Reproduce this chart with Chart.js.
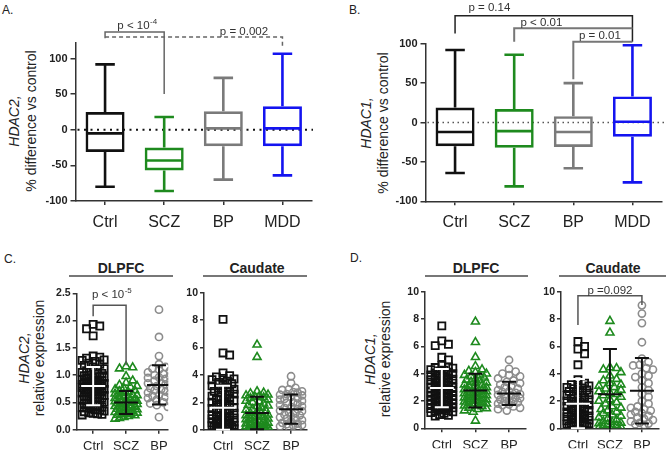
<!DOCTYPE html>
<html>
<head>
<meta charset="utf-8">
<script src="https://cdn.jsdelivr.net/npm/chart.js@4.4.0/dist/chart.umd.min.js"></script>
<style>
  body { margin: 0; background: #fff; }
  #fig { position: relative; width: 666px; height: 452px; overflow: hidden; font-family: "Liberation Sans", Arial, sans-serif; color: #222; }
  .t { position: absolute; line-height: 1; white-space: nowrap; }
  .ylab { position: absolute; transform: translate(-50%, -50%) rotate(-90deg); white-space: nowrap; text-align: center; font-size: 14px; }
  .hd { position: absolute; transform: translate(-50%, -50%); font-weight: bold; font-size: 14px; white-space: nowrap; }
  .hl { position: absolute; height: 1.5px; background: #777; }
</style>
</head>
<body>
<div id="fig">
  <div class="t" style="left:2px;top:4px;font-size:12px">A.</div>
  <div class="t" style="left:349px;top:4px;font-size:12px">B.</div>
  <div class="t" style="left:4px;top:253px;font-size:12px">C.</div>
  <div class="t" style="left:350px;top:252px;font-size:12px">D.</div>

  <div class="ylab" style="left:23px;top:121px;line-height:17px"><i>HDAC2,</i><br>% difference vs control</div>
  <div class="ylab" style="left:375px;top:123px;line-height:17px"><i>HDAC1,</i><br>% difference vs control</div>
  <div class="ylab" style="left:32px;top:358px;line-height:15px"><i>HDAC2,</i><br>relative expression</div>
  <div class="ylab" style="left:378px;top:359px;line-height:15px"><i>HDAC1,</i><br>relative expression</div>

  <div class="hd" style="left:121px;top:268px">DLPFC</div>
  <div class="hl" style="left:69px;top:275px;width:104px"></div>
  <div class="hd" style="left:257px;top:268px">Caudate</div>
  <div class="hl" style="left:203px;top:275px;width:104px"></div>
  <div class="hd" style="left:476px;top:268px">DLPFC</div>
  <div class="hl" style="left:425px;top:275px;width:103px"></div>
  <div class="hd" style="left:613px;top:268px">Caudate</div>
  <div class="hl" style="left:559px;top:275px;width:107px"></div>
</div>

<script>
Chart.defaults.font.family = '"Liberation Sans", Arial, sans-serif';

// ---- box plot data (panels A, B)
const groups4 = ['Ctrl', 'SCZ', 'BP', 'MDD'];
const boxTicks = [-100, -50, 0, 50, 100];

// A: HDAC2 % difference vs control
const aMin = [-80, -86, -70, -64];
const aQ1  = [-31, -57, -23, -23];
const aMed = [-5, -43, 2, 2];
const aQ3  = [25, -25, 26, 33];
const aMax = [92, 18, 73, 107];

// B: HDAC1 % difference vs control
const bMin = [-64, -81, -58, -76];
const bQ1  = [-30, -32, -31, -18];
const bMed = [-12, -11, -12, 1];
const bQ3  = [19, 17, 8, 33];
const bMax = [92, 86, 50, 98];

// ---- dot plot data (panels C, D)
const groups3 = ['Ctrl', 'SCZ', 'BP'];
const ticks25 = [0, 0.5, 1, 1.5, 2, 2.5];
const ticks10 = [0, 2, 4, 6, 8, 10];

// C: HDAC2 DLPFC
const cDlCtrl = [1.93,1.90,1.85,1.72,1.35,1.33,1.31,1.28,1.27,1.25,1.22,1.20,1.18,1.15,1.12,1.10,1.08,1.07,1.05,1.03,1.02,1.00,0.99,0.97,0.96,0.95,0.93,0.92,0.91,0.90,0.89,0.88,0.87,0.86,0.85,0.84,0.83,0.82,0.81,0.80,0.79,0.78,0.77,0.76,0.75,0.74,0.73,0.72,0.71,0.70,0.69,0.68,0.67,0.66,0.65,0.64,0.63,0.62,0.61,0.60,0.59,0.58,0.56,0.55,0.54,0.52,0.51,0.50,0.48,0.47,0.45,0.44,0.42,0.41,0.40,0.38,0.37,0.36,0.34,0.33,0.31,0.30,0.29,0.28,0.27];
const cDlScz = [1.16,1.14,1.12,0.98,0.90,0.86,0.82,0.80,0.78,0.76,0.74,0.72,0.70,0.69,0.67,0.66,0.64,0.63,0.62,0.60,0.59,0.58,0.57,0.56,0.55,0.54,0.53,0.52,0.51,0.50,0.49,0.48,0.47,0.46,0.45,0.44,0.43,0.42,0.41,0.40,0.39,0.38,0.37,0.36,0.35,0.34,0.33,0.32,0.31,0.30,0.29,0.28,0.27,0.26,0.25,0.23,0.21,0.20];
const cDlBp = [2.20,1.70,1.35,1.20,1.15,1.12,1.10,1.08,1.05,1.02,1.00,0.98,0.96,0.95,0.93,0.90,0.88,0.86,0.85,0.83,0.80,0.78,0.76,0.74,0.72,0.70,0.68,0.66,0.64,0.62,0.60,0.58,0.55,0.52,0.50,0.48,0.45,0.42,0.23];
const cDlMean = [0.80, 0.50, 0.82];
const cDlSd = [0.35, 0.21, 0.36];

// C: HDAC2 Caudate
const cCaCtrl = [8.05,5.6,5.45,4.15,3.95,3.85,3.75,3.7,3.65,3.55,3.45,3.35,3.3,3.2,3.1,3.05,2.95,2.9,2.8,2.75,2.7,2.6,2.5,2.45,2.4,2.3,2.2,2.15,2.1,2.0,1.9,1.85,1.8,1.7,1.6,1.55,1.5,1.4,1.3,1.25,1.2,1.1,1.05,1.0,0.95,0.9,0.85,0.8,0.75,0.7,0.65,0.6,0.55,0.5,0.45,0.42,0.4,0.35,0.32,0.3,0.28,0.25,0.22,0.2,0.18,0.15,0.12,0.1,0.08,0.05];
const cCaScz = [6.2,5.3,2.8,2.7,2.65,2.55,2.5,2.45,2.4,2.35,2.3,2.2,2.1,2.05,2.0,1.9,1.8,1.75,1.7,1.6,1.5,1.45,1.4,1.3,1.25,1.2,1.1,1.05,1.0,0.95,0.9,0.85,0.8,0.75,0.7,0.65,0.6,0.55,0.5,0.45,0.4,0.38,0.35,0.3,0.28,0.25,0.22,0.2,0.18,0.15,0.12,0.1,0.08,0.05,0.03];
const cCaBp = [3.9,3.4,3.05,2.95,2.9,2.8,2.75,2.7,2.6,2.55,2.5,2.4,2.3,2.25,2.2,2.1,2.0,1.95,1.9,1.8,1.7,1.65,1.6,1.5,1.4,1.35,1.3,1.2,1.1,1.05,1.0,0.9,0.85,0.8,0.7,0.6,0.5,0.45,0.4,0.35,0.3,0.25,0.2,0.15];
const cCaMean = [1.6, 1.22, 1.5];
const cCaSd = [1.6, 1.18, 1.07];

// D: HDAC1 DLPFC
const dDlCtrl = [7.5,6.4,6.15,6.05,5.2,5.0,4.6,4.5,4.45,4.4,4.3,4.25,4.2,4.1,4.05,4.0,3.9,3.85,3.8,3.7,3.65,3.6,3.55,3.5,3.45,3.4,3.35,3.3,3.25,3.2,3.15,3.1,3.05,3.0,2.95,2.9,2.85,2.8,2.75,2.7,2.65,2.6,2.55,2.5,2.45,2.4,2.35,2.3,2.25,2.2,2.15,2.1,2.05,2.0,1.95,1.9,1.85,1.8,1.75,1.7,1.65,1.6,1.55,1.5,1.45,1.4,1.35,1.3,1.25,1.2,1.15,1.1,1.0,0.95,0.9];
const dDlScz = [7.8,6.3,5.2,4.55,4.3,4.2,4.1,4.0,3.9,3.85,3.8,3.7,3.6,3.55,3.5,3.4,3.35,3.3,3.2,3.15,3.1,3.0,2.95,2.9,2.85,2.8,2.75,2.7,2.65,2.6,2.55,2.5,2.45,2.4,2.35,2.3,2.25,2.2,2.15,2.1,2.05,2.0,1.95,1.9,1.85,1.8,1.75,1.7,1.65,1.6,1.5,1.45,1.4,1.3,1.2,0.55];
const dDlBp = [5.0,4.35,4.15,4.0,3.9,3.8,3.65,3.5,3.4,3.3,3.2,3.1,3.0,2.9,2.8,2.7,2.65,2.6,2.5,2.45,2.4,2.3,2.25,2.2,2.1,2.05,2.0,1.95,1.9,1.8,1.75,1.7,1.6,1.5,1.4,1.3];
const dDlMean = [2.95, 2.76, 2.55];
const dDlSd = [1.4, 1.24, 0.85];

// D: HDAC1 Caudate
const dCaCtrl = [6.35,6.0,5.8,5.45,4.65,3.55,3.3,3.2,3.15,3.1,3.0,2.95,2.9,2.8,2.75,2.7,2.6,2.5,2.45,2.4,2.3,2.2,2.15,2.1,2.0,1.95,1.9,1.8,1.75,1.7,1.6,1.55,1.5,1.4,1.35,1.3,1.2,1.15,1.1,1.0,0.95,0.9,0.85,0.8,0.75,0.7,0.65,0.6,0.55,0.5,0.45,0.4,0.38,0.35,0.3,0.28,0.25,0.22,0.2,0.18];
const dCaScz = [7.85,7.0,4.45,4.4,4.3,4.1,3.85,3.6,3.5,3.3,3.2,3.1,3.0,2.9,2.8,2.7,2.6,2.5,2.4,2.3,2.1,2.0,1.9,1.8,1.6,1.5,1.4,1.3,1.2,1.1,1.0,0.9,0.8,0.7,0.6,0.5,0.45,0.4,0.35,0.3,0.25,0.2,0.15,0.1,0.05];
const dCaBp = [9.0,8.4,7.7,6.3,5.1,4.85,4.65,4.6,4.4,4.3,4.0,3.85,3.75,3.5,3.3,3.0,2.8,2.5,2.3,2.0,1.8,1.6,1.5,1.4,1.3,1.2,1.1,1.0,0.9,0.8,0.7,0.6,0.5,0.4,0.35,0.3,0.25];
const dCaMean = [1.8, 2.5, 2.75];
const dCaSd = [1.8, 3.3, 2.4];

// ---- styles
const boxColors = ['#111111', '#1e8a1e', '#7a7a7a', '#1414f0'];
const dotColors = ['#111111', '#1e8a1e', '#8c8c8c'];
const dotStyles = ['rect', 'triangle', 'circle'];
const dotRadius = [5, 4.6, 3.6];
const dotBorder = [1.8, 1.6, 1.6];
const errColors = ['#ffffff', '#111111', '#111111'];

// significance brackets, in data units of each panel
const aBrackets = [
  { from: 0, to: 1, y: 137.4, ends: [128.6, 50.5], color: '#666', label: 'p < 10', sup: '-4', lx: 0.54, ly: 146.5 },
  { from: 0, to: 3, y: 130.4, ends: [130.4, 116.4], color: '#666', dash: [4, 3], label: 'p = 0.002', lx: 2.35, ly: 138 }
];
const bBrackets = [
  { from: 0, to: 3, y: 135.6, ends: [113, 102.5], color: '#222', label: 'p = 0.14', lx: 0.58, ly: 146 },
  { from: 1, to: 3, y: 119.6, ends: [102.5, 119.6], color: '#777', lw: 2, label: 'p < 0.01', lx: 1.46, ly: 127 },
  { from: 2, to: 3, y: 102.5, ends: [55, 102.5], color: '#777', lw: 2, label: 'p = 0.01', lx: 2.45, ly: 110 }
];
const cBracket = [{ from: 0, to: 1, y: 2.28, ends: [2.08, 1.18], color: '#555', label: 'p < 10', sup: '-5', lx: 0.56, ly: 2.47 }];
const dBracket = [{ from: 0, to: 2, y: 9.7, ends: [7.56, 9.03], color: '#555', label: 'p =0.092', lx: 1.0, ly: 10.1 }];

function place(R) {
  const wrap = document.createElement('div');
  wrap.style.cssText = 'position:absolute;left:' + R.x + 'px;top:' + R.y + 'px;width:' + R.w + 'px;height:' + R.h + 'px;';
  const cv = document.createElement('canvas');
  cv.width = R.w;
  cv.height = R.h;
  wrap.appendChild(cv);
  document.getElementById('fig').appendChild(wrap);
  return cv;
}

function padFor(R, area, yW, xH) {
  return { left: area.l - R.x - yW, top: area.t - R.y, right: R.x + R.w - area.r, bottom: R.y + R.h - area.b - xH };
}

// brackets + p-value labels
function bracketPlugin(list) {
  return {
    id: 'brackets',
    afterDraw(chart) {
      const { ctx, scales: { x, y } } = chart;
      list.forEach(b => {
        const x1 = x.getPixelForValue(b.from), x2 = x.getPixelForValue(b.to);
        const yy = y.getPixelForValue(b.y);
        ctx.save();
        ctx.strokeStyle = b.color;
        ctx.lineWidth = b.lw || 1.5;
        ctx.setLineDash(b.dash || []);
        ctx.beginPath();
        ctx.moveTo(x1, y.getPixelForValue(b.ends[0]));
        ctx.lineTo(x1, yy);
        ctx.lineTo(x2, yy);
        ctx.lineTo(x2, y.getPixelForValue(b.ends[1]));
        ctx.stroke();

        ctx.fillStyle = '#333';
        ctx.textBaseline = 'middle';
        ctx.textAlign = 'left';
        ctx.font = '11.5px "Liberation Sans", Arial, sans-serif';
        const wm = ctx.measureText(b.label).width;
        let ws = 0;
        if (b.sup) {
          ctx.font = '8px "Liberation Sans", Arial, sans-serif';
          ws = ctx.measureText(b.sup).width;
        }
        const lx = x.getPixelForValue(b.lx) - (wm + ws) / 2;
        const ly = y.getPixelForValue(b.ly);
        ctx.font = '11.5px "Liberation Sans", Arial, sans-serif';
        ctx.fillText(b.label, lx, ly);
        if (b.sup) {
          ctx.font = '8px "Liberation Sans", Arial, sans-serif';
          ctx.fillText(b.sup, lx + wm + 0.5, ly - 4);
        }
        ctx.restore();
      });
    }
  };
}

// dotted line at 0
function zeroLine(color, dash, lw, toEdge) {
  return {
    id: 'zero',
    beforeDatasetsDraw(chart) {
      const { ctx, chartArea, scales: { y } } = chart;
      const py = y.getPixelForValue(0);
      ctx.save();
      ctx.strokeStyle = color;
      ctx.lineWidth = lw;
      ctx.setLineDash(dash);
      ctx.beginPath();
      ctx.moveTo(chartArea.left + 2, py);
      ctx.lineTo(toEdge ? chart.width : chartArea.right + 1, py);
      ctx.stroke();
      ctx.restore();
    }
  };
}

// whiskers and medians on top of the floating bars
function whiskers(s) {
  return {
    id: 'whiskers',
    afterDatasetsDraw(chart) {
      const { ctx, scales: { x, y } } = chart;
      const bars = chart.getDatasetMeta(0).data;
      s.med.forEach((m, i) => {
        const cx = x.getPixelForValue(i);
        const half = bars[i].width / 2;
        const cap = half * 0.5;
        ctx.save();
        ctx.strokeStyle = boxColors[i];
        ctx.lineWidth = 2.6;
        ctx.beginPath();
        ctx.moveTo(cx - half + 1, y.getPixelForValue(m));
        ctx.lineTo(cx + half - 1, y.getPixelForValue(m));
        ctx.moveTo(cx, y.getPixelForValue(s.q3[i]));
        ctx.lineTo(cx, y.getPixelForValue(s.max[i]));
        ctx.moveTo(cx - cap, y.getPixelForValue(s.max[i]));
        ctx.lineTo(cx + cap, y.getPixelForValue(s.max[i]));
        ctx.moveTo(cx, y.getPixelForValue(s.q1[i]));
        ctx.lineTo(cx, y.getPixelForValue(s.min[i]));
        ctx.moveTo(cx - cap, y.getPixelForValue(s.min[i]));
        ctx.lineTo(cx + cap, y.getPixelForValue(s.min[i]));
        ctx.stroke();
        ctx.restore();
      });
    }
  };
}

function boxChart(R, area, s, yMax, brackets, zero) {
  const yW = 40, xH = 28;
  return new Chart(place(R), {
    type: 'bar',
    data: {
      labels: groups4,
      datasets: [{
        data: s.q1.map((v, i) => [v, s.q3[i]]),
        backgroundColor: 'rgba(0,0,0,0)',
        borderColor: boxColors,
        borderWidth: 2.6,
        borderSkipped: false,
        barPercentage: 0.66,
        categoryPercentage: 1
      }]
    },
    options: {
      responsive: false,
      animation: false,
      layout: { padding: padFor(R, area, yW, xH) },
      plugins: { legend: { display: false }, tooltip: { enabled: false } },
      scales: {
        x: {
          grid: { offset: false, drawOnChartArea: false, tickLength: 4, color: '#333', lineWidth: 1.5 },
          border: { color: '#333', width: 1.5 },
          ticks: { font: { size: 16 }, color: '#222', padding: 8 },
          afterFit: sc => { sc.height = xH; }
        },
        y: {
          min: -100,
          max: yMax,
          afterBuildTicks: sc => { sc.ticks = boxTicks.map(v => ({ value: v })); },
          grid: { drawOnChartArea: false, tickLength: 5, color: '#333', lineWidth: 1.5 },
          border: { color: '#333', width: 1.5 },
          ticks: { font: { size: 11, weight: 'bold' }, color: '#222', padding: 3 },
          afterFit: sc => { sc.width = yW; }
        }
      }
    },
    plugins: [zero, whiskers(s), bracketPlugin(brackets)]
  });
}

// beeswarm spread of one group around its category
function swarm(chart, values, center) {
  const xs = chart.scales.x, ys = chart.scales.y;
  const cx = xs.getPixelForValue(center);
  const placed = [];
  const out = [];
  const order = values.map((v, i) => i).sort((a, b) => values[b] - values[a]);
  order.forEach(i => {
    const py = ys.getPixelForValue(values[i]);
    let best = 0, bestGap = -1;
    for (let k = 0; k <= 10; k++) {
      const off = (k % 2 ? 1 : -1) * Math.ceil(k / 2) * 2.2;
      let gap = 99;
      placed.forEach(p => { gap = Math.min(gap, Math.hypot(p.x - off, p.y - py)); });
      if (gap >= 6.5) { best = off; break; }
      if (gap > bestGap) { bestGap = gap; best = off; }
    }
    placed.push({ x: best, y: py });
    out[i] = { x: xs.getValueForPixel(cx + best), y: values[i] };
  });
  return out;
}

// mean +/- SD bars
function errorBars(mean, sd) {
  return {
    id: 'errbars',
    afterDatasetsDraw(chart) {
      const { ctx, chartArea: ca, scales: { x, y } } = chart;
      ctx.save();
      ctx.beginPath();
      ctx.rect(ca.left, ca.top - 2, ca.right - ca.left, ca.bottom - ca.top + 3);
      ctx.clip();
      mean.forEach((m, i) => {
        const cx = x.getPixelForValue(i);
        const top = y.getPixelForValue(m + sd[i]), bot = y.getPixelForValue(m - sd[i]);
        const my = y.getPixelForValue(m);
        ctx.strokeStyle = errColors[i];
        ctx.lineWidth = 2;
        ctx.beginPath();
        ctx.moveTo(cx, top); ctx.lineTo(cx, bot);
        ctx.moveTo(cx - 7, top); ctx.lineTo(cx + 7, top);
        ctx.moveTo(cx - 7, bot); ctx.lineTo(cx + 7, bot);
        ctx.moveTo(cx - 12, my); ctx.lineTo(cx + 12, my);
        ctx.stroke();
      });
      ctx.restore();
    }
  };
}

function dotChart(R, area, xr, yMax, ticks, decimals, sets, mean, sd, brackets) {
  const yW = R.x === 533 ? 26 : (R.x === 175 ? 24 : 30), xH = 20;
  const chart = new Chart(place(R), {
    type: 'scatter',
    data: {
      datasets: sets.map((vals, i) => ({
        data: vals.map(v => ({ x: i, y: v })),
        pointStyle: dotStyles[i],
        radius: dotRadius[i],
        borderColor: dotColors[i],
        backgroundColor: 'rgba(0,0,0,0)',
        borderWidth: dotBorder[i]
      }))
    },
    options: {
      responsive: false,
      animation: false,
      layout: { padding: padFor(R, area, yW, xH) },
      plugins: { legend: { display: false }, tooltip: { enabled: false } },
      scales: {
        x: {
          type: 'linear',
          min: xr[0],
          max: xr[1],
          afterBuildTicks: sc => { sc.ticks = [0, 1, 2].map(v => ({ value: v })); },
          grid: { drawOnChartArea: false, tickLength: 4, color: '#333', lineWidth: 1.5 },
          border: { color: '#333', width: 1.5, dash: [3, 2] },
          ticks: { font: { size: 13 }, color: '#222', padding: 5, callback: v => groups3[v] },
          afterFit: sc => { sc.height = xH; }
        },
        y: {
          min: 0,
          max: yMax,
          afterBuildTicks: sc => { sc.ticks = ticks.map(v => ({ value: v })); },
          grid: { drawOnChartArea: false, tickLength: 4, color: '#333', lineWidth: 1.5 },
          border: { color: '#333', width: 1.5 },
          ticks: { font: { size: 10.5, weight: 'bold' }, color: '#222', padding: 2, callback: v => v.toFixed(decimals) },
          afterFit: sc => { sc.width = yW; }
        }
      }
    },
    plugins: [errorBars(mean, sd), bracketPlugin(brackets)]
  });
  sets.forEach((vals, i) => { chart.data.datasets[i].data = swarm(chart, vals, i); });
  chart.update('none');
  return chart;
}

// Panel A
boxChart({ x: 0, y: 0, w: 333, h: 230 }, { l: 75.5, t: 43, r: 312, b: 201 },
  { min: aMin, q1: aQ1, med: aMed, q3: aQ3, max: aMax }, 122, aBrackets,
  zeroLine('#111', [2, 4.5], 2, false));

// Panel B
boxChart({ x: 333, y: 0, w: 333, h: 230 }, { l: 425.5, t: 43.7, r: 662, b: 201.3 },
  { min: bMin, q1: bQ1, med: bMed, q3: bQ3, max: bMax }, 100, bBrackets,
  zeroLine('#555', [1.5, 3.5], 1.5, true));

// Panel C
dotChart({ x: 0, y: 280, w: 175, h: 172 }, { l: 76.7, t: 293.3, r: 173, b: 429.7 }, [-0.5, 2.28], 2.5, ticks25, 1,
  [cDlCtrl, cDlScz, cDlBp], cDlMean, cDlSd, cBracket);
dotChart({ x: 175, y: 280, w: 158, h: 172 }, { l: 204, t: 292.7, r: 306.7, b: 429.7 }, [-0.56, 2.46], 10, ticks10, 0,
  [cCaCtrl, cCaScz, cCaBp], cCaMean, cCaSd, []);

// Panel D
dotChart({ x: 333, y: 280, w: 200, h: 172 }, { l: 425, t: 291.7, r: 528, b: 428.3 }, [-0.5, 2.51], 10, ticks10, 0,
  [dDlCtrl, dDlScz, dDlBp], dDlMean, dDlSd, []);
dotChart({ x: 533, y: 280, w: 133, h: 172 }, { l: 561, t: 291.7, r: 666, b: 428.3 }, [-0.53, 2.54], 10, ticks10, 0,
  [dCaCtrl, dCaScz, dCaBp], dCaMean, dCaSd, dBracket);
</script>
</body>
</html>
